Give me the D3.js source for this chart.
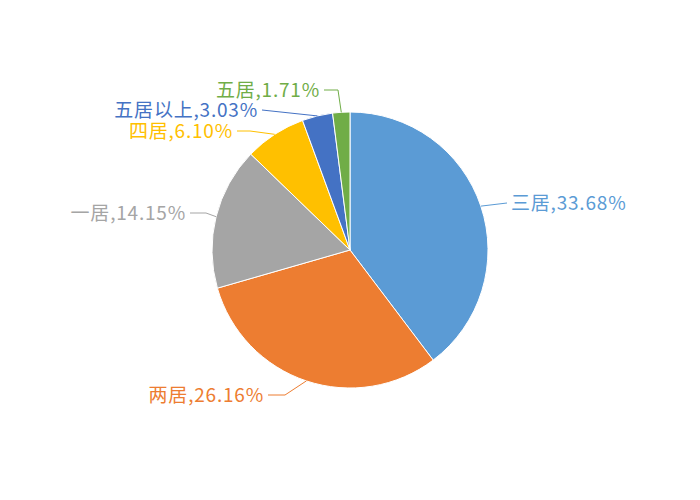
<!DOCTYPE html>
<html>
<head>
<meta charset="utf-8">
<script src="https://cdn.jsdelivr.net/npm/d3@7"></script>
<style>
  body { margin: 0; background: #fff; }
  text { font-family: "Noto Sans CJK SC", "Microsoft YaHei", sans-serif; }
</style>
</head>
<body>
<svg width="700" height="500"></svg>
<script>
const categories = ['三居', '两居', '一居', '四居', '五居以上', '五居'];
const values = [33.68, 26.16, 14.15, 6.10, 3.03, 1.71];
const colors = ['#5B9BD5', '#ED7D31', '#A5A5A5', '#FFC000', '#4472C4', '#70AD47'];

// label layout relative to centre: elbow point, line end point, text side
const labelLayout = [
  {elbow: [157, -47], end: [157, -47], side: 'start'},
  {elbow: [-65, 145], end: [-82, 145], side: 'end'},
  {elbow: [-144, -37], end: [-160, -37], side: 'end'},
  {elbow: [-100, -119], end: [-113, -119], side: 'end'},
  {elbow: [-60, -137], end: [-88, -140], side: 'end'},
  {elbow: [-12, -160], end: [-26, -160], side: 'end'}
];

const svg = d3.select('svg');
const cx = 350, cy = 250, radius = 138;

const data = categories.map((c, i) => ({name: c, value: values[i], color: colors[i], layout: labelLayout[i]}));

const pie = d3.pie()
  .value(d => d.value)
  .sort(null);

const arc = d3.arc()
  .innerRadius(0)
  .outerRadius(radius);

const g = svg.append('g')
  .attr('transform', 'translate(' + cx + ',' + cy + ')');

const arcs = pie(data);

g.selectAll('path.slice')
  .data(arcs)
  .enter()
  .append('path')
  .attr('class', 'slice')
  .attr('d', arc)
  .attr('fill', d => d.data.color)
  .attr('stroke', '#fff')
  .attr('stroke-width', 1);

// leader lines from the slice edge midpoint
g.selectAll('polyline.leader')
  .data(arcs)
  .enter()
  .append('polyline')
  .attr('class', 'leader')
  .attr('fill', 'none')
  .attr('stroke', d => d.data.color)
  .attr('stroke-width', 1)
  .attr('points', d => {
    const mid = (d.startAngle + d.endAngle) / 2;
    const edge = [radius * Math.sin(mid), -radius * Math.cos(mid)];
    return [edge, d.data.layout.elbow, d.data.layout.end].map(p => p.join(',')).join(' ');
  });

g.selectAll('text.label')
  .data(arcs)
  .enter()
  .append('text')
  .attr('class', 'label')
  .attr('x', d => d.data.layout.end[0] + (d.data.layout.side === 'start' ? 4 : -4))
  .attr('y', d => d.data.layout.end[1])
  .attr('dy', '0.35em')
  .attr('text-anchor', d => d.data.layout.side)
  .attr('fill', d => d.data.color)
  .style('font-size', '19px')
  .style('letter-spacing', '0.8px')
  .text(d => d.data.name + ',' + d.data.value.toFixed(2) + '%');
</script>
</body>
</html>
